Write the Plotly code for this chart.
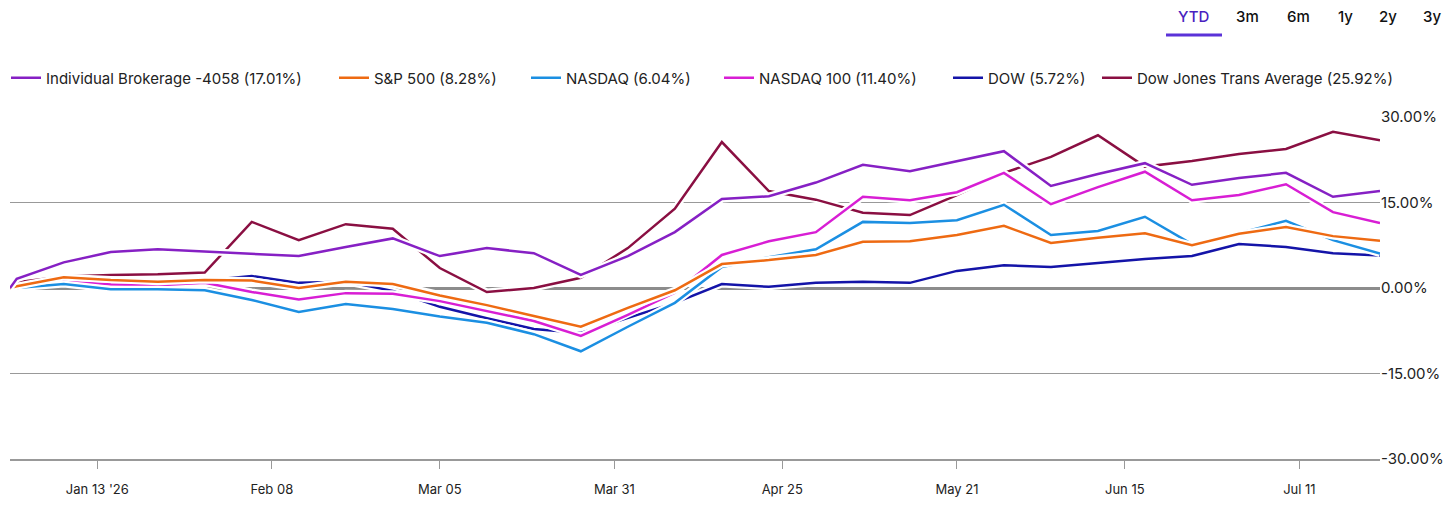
import plotly.graph_objects as go

# weekly points, Dec 31 baseline then Thursdays
dates = ["2025-12-31", "2026-01-01", "2026-01-08", "2026-01-15", "2026-01-22", "2026-01-29",
         "2026-02-05", "2026-02-12", "2026-02-19", "2026-02-26", "2026-03-05", "2026-03-12",
         "2026-03-19", "2026-03-26", "2026-04-02", "2026-04-09", "2026-04-16", "2026-04-23",
         "2026-04-30", "2026-05-07", "2026-05-14", "2026-05-21", "2026-05-28", "2026-06-04",
         "2026-06-11", "2026-06-18", "2026-06-25", "2026-07-02", "2026-07-09", "2026-07-16",
         "2026-07-23"]

brokerage = [0, 1.6, 4.5, 6.3, 6.8, 6.4, 6.1, 5.6, 7.2, 8.7, 5.6, 7.0, 6.1, 2.3, 5.6, 9.8,
             15.6, 16.1, 18.5, 21.6, 20.5, 22.3, 24.0, 17.9, 20.0, 21.9, 18.1, 19.3, 20.2, 16.0, 17.01]
sp500 = [0, 0.3, 1.9, 1.4, 1.1, 1.4, 1.3, 0.0, 1.1, 0.7, -1.3, -3.0, -4.9, -6.8, -3.5, -0.4,
         4.2, 4.9, 5.8, 8.1, 8.2, 9.3, 10.9, 7.9, 8.8, 9.6, 7.5, 9.5, 10.7, 9.1, 8.28]
nasdaq = [0, 0.0, 0.7, -0.2, -0.2, -0.4, -2.1, -4.2, -2.8, -3.7, -5.0, -6.1, -8.1, -11.1, -6.8, -2.6,
          3.7, 5.4, 6.8, 11.6, 11.4, 11.9, 14.6, 9.3, 10.0, 12.5, 7.7, 9.6, 11.8, 8.4, 6.04]
nasdaq100 = [0, 0.2, 1.2, 0.6, 0.5, 0.9, -0.7, -2.0, -0.9, -1.0, -2.3, -4.0, -5.8, -8.4, -4.7, -0.8,
             5.8, 8.2, 9.8, 16.0, 15.4, 16.8, 20.2, 14.7, 17.7, 20.4, 15.4, 16.3, 18.2, 13.3, 11.40]
dow = [0, 0.2, 1.5, 1.2, 1.0, 1.3, 2.1, 0.9, 1.1, -0.5, -3.3, -5.3, -7.2, -7.9, -5.3, -2.6,
       0.7, 0.2, 0.9, 1.1, 0.9, 3.0, 4.0, 3.7, 4.4, 5.1, 5.6, 7.7, 7.2, 6.1, 5.72]
dow_trans = [0, 1.0, 2.0, 2.3, 2.4, 2.7, 11.6, 8.4, 11.2, 10.4, 3.5, -0.7, 0.0, 1.8, 7.0, 13.9,
             25.6, 17.0, 15.5, 13.2, 12.8, 16.3, 20.2, 23.0, 26.8, 21.3, 22.3, 23.5, 24.4, 27.4, 25.92]

names = ["Individual Brokerage -4058 (17.01%)", "S&P 500 (8.28%)", "NASDAQ (6.04%)",
         "NASDAQ 100 (11.40%)", "DOW (5.72%)", "Dow Jones Trans Average (25.92%)"]
series = [brokerage, sp500, nasdaq, nasdaq100, dow, dow_trans]
colors = ["#8620c4", "#ee6a12", "#1b8fe2", "#d81ed4", "#1414a8", "#8a0f42"]

y_ticks = [-30, -15, 0, 15, 30]
y_labels = ["-30.00%", "-15.00%", "0.00%", "15.00%", "30.00%"]
x_ticks = ["2026-01-13", "2026-02-08", "2026-03-05", "2026-03-31", "2026-04-25",
           "2026-05-21", "2026-06-15", "2026-07-11"]
x_labels = ["Jan 13 '26", "Feb 08", "Mar 05", "Mar 31", "Apr 25", "May 21", "Jun 15", "Jul 11"]

ranges = ["YTD", "3m", "6m", "1y", "2y", "3y"]

# page body adds 8px margin, so work in screen pixels and shift back
OFF = 8
W, H = 1456 - OFF, 516 - OFF
L, T = 10 - OFF, 117 - OFF
R, B = W - (1380 - OFF), H - (459 - OFF)
PW, PH = W - L - R, H - T - B


def px_x(p):
    return (p - OFF - L) / PW


def px_y(p):
    return (H - B - (p - OFF)) / PH


legend_px = [6, 334, 526, 719, 948, 1097]
range_px = [1193, 1247, 1298, 1345, 1388, 1432]

fig = go.Figure()

# first series sits on top, so draw in reverse; white halo under each line
for i in reversed(range(len(series))):
    lg = "legend" if i == 0 else f"legend{i + 1}"
    fig.add_trace(go.Scatter(
        x=dates, y=series[i], mode="lines",
        line=dict(color="white", width=7),
        showlegend=False, hoverinfo="skip"
    ))
    fig.add_trace(go.Scatter(
        x=dates, y=series[i], mode="lines", name=names[i],
        line=dict(color=colors[i], width=2.5),
        legend=lg
    ))

layout_legends = {}
for i, lx in enumerate(legend_px):
    key = "legend" if i == 0 else f"legend{i + 1}"
    layout_legends[key] = dict(
        orientation="h", x=px_x(lx), xanchor="left", y=px_y(78), yanchor="middle",
        font=dict(size=15, color="#222"), itemwidth=30, bgcolor="rgba(0,0,0,0)"
    )

fig.update_layout(
    width=W, height=H,
    margin=dict(l=L, r=R, t=T, b=B, autoexpand=False),
    paper_bgcolor="white", plot_bgcolor="white",
    font=dict(family="Inter, Noto Sans, sans-serif", color="#222"),
    showlegend=True,
    xaxis=dict(
        type="date", range=["2025-12-31", "2026-07-23"],
        tickvals=x_ticks, ticktext=x_labels,
        showgrid=False, zeroline=False,
        showline=True, linecolor="#999", linewidth=1.5,
        ticks="outside", ticklen=8, tickcolor="#999",
        ticklabelstandoff=10,
        tickfont=dict(size=13, color="#222")
    ),
    yaxis=dict(
        range=[-30, 30], side="right",
        tickvals=y_ticks, ticktext=y_labels,
        showgrid=True, gridcolor="#999", gridwidth=1,
        zeroline=True, zerolinecolor="#8c8c8c", zerolinewidth=3,
        showline=False, ticks="",
        tickfont=dict(size=15, color="#222")
    ),
    **layout_legends
)

for label, rx in zip(ranges, range_px):
    fig.add_annotation(
        x=px_x(rx), y=px_y(17), xref="paper", yref="paper",
        text=label, showarrow=False, xanchor="center", yanchor="middle",
        font=dict(size=15, weight=500, color="#4a1fc0" if label == "YTD" else "#111"),
    )

fig.add_shape(
    type="line", xref="paper", yref="paper",
    x0=px_x(1166), x1=px_x(1222), y0=px_y(35), y1=px_y(35),
    line=dict(color="#5b32d8", width=3)
)

fig.write_html("out.html")
